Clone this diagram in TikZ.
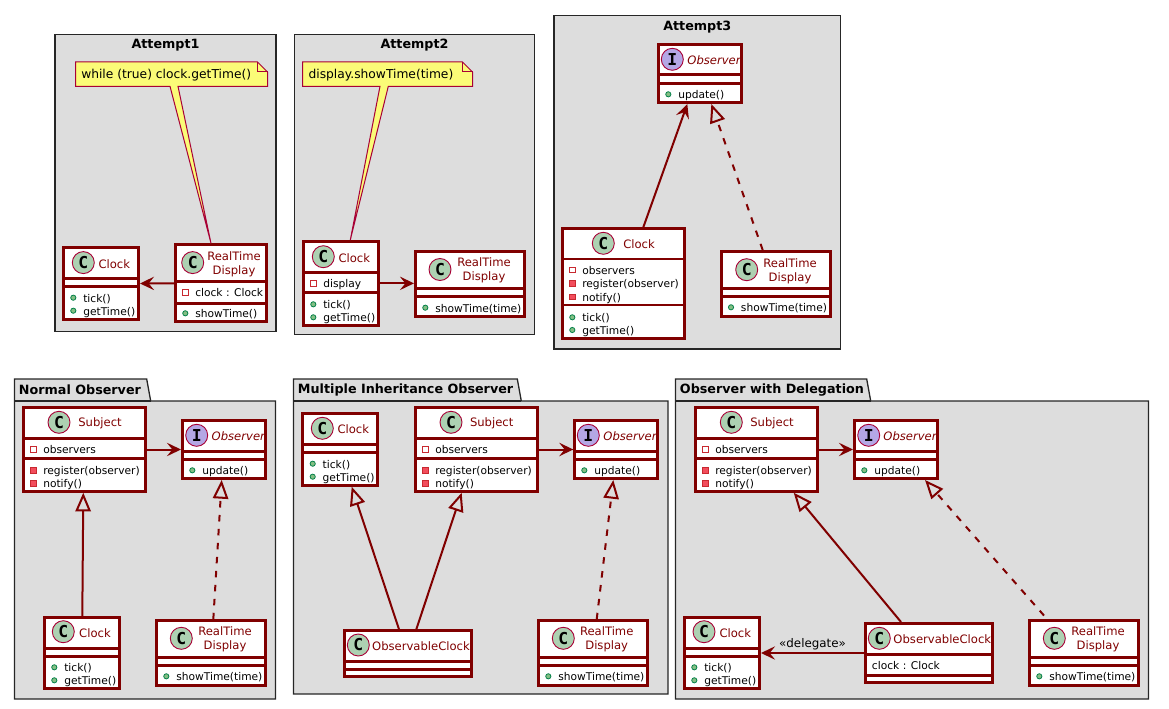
\documentclass[tikz,border=0pt]{standalone}
\usepackage{fontspec}
\setmainfont{DejaVu Sans}
\newfontfamily\iconfont{DejaVu Sans Mono}
\usetikzlibrary{arrows.meta, positioning}

\definecolor{boxred}{RGB}{128, 0, 0}
\definecolor{thinred}{RGB}{168, 0, 54}
\definecolor{framegray}{RGB}{221, 221, 221}
\definecolor{noteyellow}{RGB}{251, 251, 119}
\definecolor{iconC}{RGB}{173, 209, 178}
\definecolor{iconI}{RGB}{180, 167, 229}
\definecolor{privred}{RGB}{200, 41, 48}
\definecolor{methred}{RGB}{242, 77, 92}
\definecolor{pubgreen}{RGB}{3, 128, 72}
\definecolor{pubfill}{RGB}{132, 190, 132}

\newcommand{\px}{0.75pt}

\tikzset{
  framebox/.style={draw=black!85, fill=framegray, line width=1.3*\px},
  frametitle/.style={font=\fontsize{9.55}{11}\selectfont\bfseries, inner sep=0pt},
  classbox/.style={draw=boxred, fill=white, line width=3*\px, inner sep=0pt},
  sepline/.style={draw=boxred, line width=3*\px},
  septhin/.style={draw=boxred, line width=1.2*\px},
  iconbox/.style={circle, draw=thinred, line width=0.9*\px, inner sep=0pt, minimum size=22*\px,
    font=\iconfont\fontsize{12.3}{13}\selectfont\bfseries},
  classtitle/.style={text=boxred, align=center, inner sep=0pt,
    font=\fontsize{8.7}{10.5}\selectfont},
  membertext/.style={anchor=west, inner sep=0pt, text height=7pt, text depth=0.5pt,
    font=\fontsize{8}{10}\selectfont},
  notebody/.style={draw=thinred, fill=noteyellow, line width=1*\px},
  notetext/.style={anchor=west, inner sep=0pt, font=\fontsize{9.2}{11}\selectfont},
  assoc/.style={draw=boxred, line width=2*\px, -{Stealth[length=10.5pt, width=10pt, inset=4pt]}},
  inherit/.style={draw=boxred, line width=2*\px, -{Triangle[open, length=14pt, width=11.5pt]}},
  realize/.style={inherit, dash pattern=on 4.9pt off 5.6pt},
}

% name, then outer edges in pixels: left, top, right, bottom, then the two separators
\newcommand{\umlclass}[8][sepline]{
  \node[classbox, minimum width={(#5-#3-3)*\px}, minimum height={(#6-#4-3)*\px}]
    (#2) at ({(#3+#5)/2},{(#4+#6)/2}) {};
  \draw[#1] (#3+1,#7) -- (#5-1,#7);
  \draw[#1] (#3+1,#8) -- (#5-1,#8);
}
\newcommand{\umlhead}[6]{
  \node[iconbox, fill=icon#2] (#1-icon) at (#3,#4) {#2};
  \node[classtitle] (#1-title) at (#5,#4+1.2) {#6};
}
\newcommand{\umlpub}[4]{
  \draw[pubgreen, fill=pubfill, line width=0.8*\px] (#2,#3) circle (2.6*\px);
  \node[membertext] (#1) at (#2+9.7,#3) {#4};
}
\newcommand{\umlfield}[4]{
  \draw[privred, line width=0.8*\px] (#2-2.8,#3-2.8) rectangle (#2+2.8,#3+2.8);
  \node[membertext] (#1) at (#2+9.7,#3) {#4};
}
\newcommand{\umlmeth}[4]{
  \draw[privred, fill=methred, line width=0.8*\px] (#2-2.8,#3-2.8) rectangle (#2+2.8,#3+2.8);
  \node[membertext] (#1) at (#2+9.7,#3) {#4};
}
\newcommand{\umlframe}[6]{
  \draw[framebox] (#2,#3) rectangle (#4,#5);
  \node[frametitle] (#1) at ({(#2+#4)/2},#3+11) {#6};
}
\newcommand{\umlpack}[6]{
  \draw[framebox] (#2,379) -- (#4,379) -- (#4+4,401) -- (#3,401) -- (#3,#5) -- (#2,#5) -- cycle;
  \draw[black!85, line width=1.1*\px] (#2,401) -- (#4+4,401);
  \node[frametitle, anchor=west] (#1) at (#2+4.2,390) {#6};
}

\begin{document}
\begin{tikzpicture}[x=\px, y=-\px]
  \useasboundingbox (0,0) rectangle (1169,709);

  % Attempt 1
  \umlframe{att1}{55}{34.5}{276}{331.5}{Attempt1}
  \umlclass{rt1}{174}{243.3}{268}{323.3}{281.7}{303.3}
  \umlhead{rt1}{C}{192.7}{262.6}{234}{RealTime\\Display}
  \umlfield{rt1-a}{185.3}{292.3}{clock : Clock}
  \umlpub{rt1-b}{185.3}{313.3}{showTime()}
  \umlclass{clk1}{62.3}{246}{140}{321}{278}{286.7}
  \umlhead{clk1}{C}{83.3}{262.6}{114.3}{Clock}
  \umlpub{clk1-a}{73.3}{297.7}{tick()}
  \umlpub{clk1-b}{73.3}{310.7}{getTime()}
  \draw[assoc] (rt1.west) -- (clk1.east);
  \draw[notebody] (75.5,62) -- (257.5,62) -- (267.5,72) -- (267.5,86.3) -- (178,86.3)
    -- ([xshift=-10*\px]rt1.north) -- (170,86.3) -- (75.5,86.3) -- cycle;
  \draw[notebody, fill=none] (257.5,62) -- (257.5,72) -- (267.5,72);
  \node[notetext] (note1) at (81,75) {while (true) clock.getTime()};

  % Attempt 2
  \umlframe{att2}{294.5}{34.5}{534.5}{334.5}{Attempt2}
  \umlclass{clk2}{302.3}{240}{380}{326.7}{272.3}{292.3}
  \umlhead{clk2}{C}{323.3}{256.7}{354.3}{Clock}
  \umlfield{clk2-a}{313.3}{283.3}{display}
  \umlpub{clk2-b}{313.3}{304.3}{tick()}
  \umlpub{clk2-c}{313.3}{317.3}{getTime()}
  \umlclass{rt2}{414}{250}{526}{317.7}{288.3}{296}
  \umlhead{rt2}{C}{440}{269.5}{484}{RealTime\\Display}
  \umlpub{rt2-a}{425.3}{307.7}{showTime(time)}
  \draw[assoc] (clk2.east) -- (rt2.west |- clk2.east);
  \draw[notebody] (302.5,62) -- (462.5,62) -- (472.5,72) -- (472.5,86.3) -- (388.3,86.3)
    -- ([xshift=9.15*\px]clk2.north) -- (380,86.3) -- (302.5,86.3) -- cycle;
  \draw[notebody, fill=none] (462.5,62) -- (462.5,72) -- (472.5,72);
  \node[notetext] (note2) at (308.3,75) {display.showTime(time)};

  % Attempt 3
  \umlframe{att3}{554}{15.7}{840.5}{349}{Attempt3}
  \umlclass{obs3}{657.3}{43.3}{743}{104}{75}{83.3}
  \umlhead{obs3}{I}{672.3}{59.3}{714}{\itshape Observer}
  \umlpub{obs3-a}{668.3}{94.3}{update()}
  \umlclass[septhin]{clk3}{561}{227.3}{686}{340}{259}{305}
  \umlhead{clk3}{C}{603.3}{243.3}{639}{Clock}
  \umlfield{clk3-a}{572.3}{270}{observers}
  \umlmeth{clk3-b}{572.3}{283.3}{register(observer)}
  \umlmeth{clk3-c}{572.3}{296.7}{notify()}
  \umlpub{clk3-d}{572.3}{317.3}{tick()}
  \umlpub{clk3-e}{572.3}{330}{getTime()}
  \umlclass{rt3}{720}{250}{832}{318}{288.3}{296.7}
  \umlhead{rt3}{C}{746.7}{269.7}{790}{RealTime\\Display}
  \umlpub{rt3-a}{731}{307.3}{showTime(time)}
  \draw[assoc] ([xshift=19.8*\px]clk3.north) -- ([xshift=-12.85*\px]obs3.south);
  \draw[realize] ([xshift=-13.3*\px]rt3.north) -- ([xshift=11.2*\px]obs3.south);

  % Normal Observer
  \umlpack{pack1}{14.5}{275.5}{146.7}{699}{Normal Observer}
  \umlclass{sub4}{22.3}{406.3}{147}{492.7}{438.3}{458.7}
  \umlhead{sub4}{C}{59}{422.3}{100}{Subject}
  \umlfield{sub4-a}{33.3}{449.3}{observers}
  \umlmeth{sub4-b}{33.3}{470.3}{register(observer)}
  \umlmeth{sub4-c}{33.3}{483.3}{notify()}
  \umlclass{obs4}{181}{419.3}{267}{480}{451.7}{459.3}
  \umlhead{obs4}{I}{196.7}{435.3}{238.3}{\itshape Observer}
  \umlpub{obs4-a}{192.3}{470.3}{update()}
  \umlclass{clk4}{43.3}{616}{120.7}{690}{648.3}{656.7}
  \umlhead{clk4}{C}{63.3}{631.7}{95}{Clock}
  \umlpub{clk4-a}{54.3}{667.3}{tick()}
  \umlpub{clk4-b}{54.3}{680.3}{getTime()}
  \umlclass{rt4}{155}{619.3}{266.7}{687}{657.3}{665.7}
  \umlhead{rt4}{C}{181.3}{638.3}{225}{RealTime\\Display}
  \umlpub{rt4-a}{166.3}{676.3}{showTime(time)}
  \draw[assoc] (sub4.east) -- (obs4.west |- sub4.east);
  \draw[inherit] ([xshift=0.3*\px]clk4.north) -- ([xshift=-1.35*\px]sub4.south);
  \draw[realize] ([xshift=2.45*\px]rt4.north) -- ([xshift=-2.3*\px]obs4.south);

  % Multiple Inheritance Observer
  \umlpack{pack2}{293.5}{668}{517.3}{694}{Multiple Inheritance Observer}
  \umlclass{clk5}{301}{412.3}{379}{486.7}{444.3}{452.3}
  \umlhead{clk5}{C}{322.3}{428.3}{353.3}{Clock}
  \umlpub{clk5-a}{312.7}{463.7}{tick()}
  \umlpub{clk5-b}{312.7}{476.7}{getTime()}
  \umlclass{sub5}{414.3}{406.3}{539}{492.7}{438.3}{458.7}
  \umlhead{sub5}{C}{451}{422.3}{491.7}{Subject}
  \umlfield{sub5-a}{425.3}{449.3}{observers}
  \umlmeth{sub5-b}{425.3}{470.3}{register(observer)}
  \umlmeth{sub5-c}{425.3}{483.3}{notify()}
  \umlclass{obs5}{573.3}{419.3}{658.7}{480}{451.7}{459.3}
  \umlhead{obs5}{I}{588.3}{435.3}{630}{\itshape Observer}
  \umlpub{obs5-a}{584.3}{470.3}{update()}
  \umlclass{oc5}{343.3}{629.3}{472.7}{677.7}{661}{669.3}
  \umlhead{oc5}{C}{358.3}{645}{421}{ObservableClock}
  \umlclass{rt5}{537.3}{619.3}{648.7}{687}{657.3}{665.7}
  \umlhead{rt5}{C}{563.3}{638.3}{606.7}{RealTime\\Display}
  \umlpub{rt5-a}{548.3}{676.3}{showTime(time)}
  \draw[assoc] (sub5.east) -- (obs5.west |- sub5.east);
  \draw[inherit] ([xshift=-9*\px]oc5.north) -- ([xshift=11.7*\px]clk5.south);
  \draw[inherit] ([xshift=8.3*\px]oc5.north) -- ([xshift=-15*\px]sub5.south);
  \draw[realize] ([xshift=3.7*\px]rt5.north) -- ([xshift=-2.7*\px]obs5.south);

  % Observer with Delegation
  \umlpack{pack3}{675.5}{1148.5}{866.7}{699}{Observer with Delegation}
  \umlclass{sub6}{694}{406.3}{818.7}{492.7}{438.3}{458.7}
  \umlhead{sub6}{C}{731.3}{422.3}{772}{Subject}
  \umlfield{sub6-a}{705.3}{449.3}{observers}
  \umlmeth{sub6-b}{705.3}{470.3}{register(observer)}
  \umlmeth{sub6-c}{705.3}{483.3}{notify()}
  \umlclass{obs6}{853}{419.3}{939}{480}{451.7}{459.3}
  \umlhead{obs6}{I}{868.7}{435.3}{910}{\itshape Observer}
  \umlpub{obs6-a}{864.3}{470.3}{update()}
  \umlclass{clk6}{683.3}{616}{761}{690}{648.3}{656.7}
  \umlhead{clk6}{C}{704}{631.7}{735.3}{Clock}
  \umlpub{clk6-a}{694.3}{667.3}{tick()}
  \umlpub{clk6-b}{694.3}{680.3}{getTime()}
  \umlclass{oc6}{864}{622}{994}{684}{654}{675}
  \umlhead{oc6}{C}{879.3}{638.3}{942.3}{ObservableClock}
  \node[membertext] (oc6-a) at (871.7,665) {clock : Clock};
  \umlclass{rt6}{1028}{619.3}{1140.3}{687}{657.3}{665.7}
  \umlhead{rt6}{C}{1054.3}{638.3}{1098}{RealTime\\Display}
  \umlpub{rt6-a}{1039.3}{676.3}{showTime(time)}
  \draw[assoc] (sub6.east) -- (obs6.west |- sub6.east);
  \draw[inherit] ([xshift=-28*\px]oc6.north) -- ([xshift=37.35*\px]sub6.south);
  \draw[realize, shorten <=5*\px] ([xshift=-36.85*\px]rt6.north) -- ([xshift=29*\px]obs6.south);
  \draw[assoc] (oc6.west) -- node[above=1.5pt, inner sep=0pt, font=\fontsize{8.9}{10}\selectfont] (dlg6) {«delegate»} (clk6.east);
\end{tikzpicture}
\end{document}
